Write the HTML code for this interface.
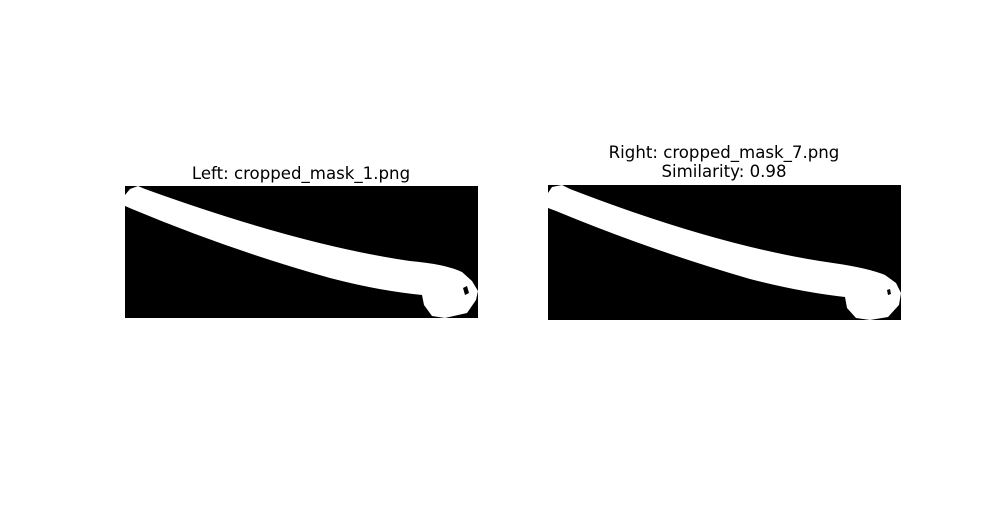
<!DOCTYPE html>
<html><head><meta charset="utf-8"><style>
body{margin:0;background:#fff;width:1000px;height:500px;overflow:hidden}
text{font-family:"DejaVu Sans","Liberation Sans",sans-serif;font-size:16.6px;fill:#000}
</style></head><body>
<svg width="1000" height="500">
<g>
<text x="301" y="179" text-anchor="middle">Left: cropped_mask_1.png</text>
<rect x="125" y="186" width="353" height="132" fill="#000"/>
<path fill="#fff" d="M125,195 L125,206 L132,209 Q230,250 330,278 Q380,291 422,295 L424,305 L432,316 L445,318 L467,313 L476,300 L478,291 L472,281 L462,272 Q445,264 410,261 Q300,245 145,189 L138,186 L130,189 Z"/>
<path d="M463,288 L467,286 L469,293 L465,295 Z" fill="#000"/>
</g>
<g>
<text x="724" y="158" text-anchor="middle">Right: cropped_mask_7.png</text>
<text x="724" y="177" text-anchor="middle">Similarity: 0.98</text>
<rect x="548" y="185" width="353" height="135" fill="#000"/>
<path fill="#fff" d="M548,193 L548,208 L556,211 Q650,250 750,279 Q800,292 845,297 L847,308 L856,318 L870,320 L888,317 L899,305 L901,293 L896,283 L885,275 Q868,268 833,263 Q720,247 570,189 L562,185 L552,187 Z"/>
<path d="M887,290 L890,289 L891,294 L888,295 Z" fill="#000"/>
</g>
</svg>
</body></html>
